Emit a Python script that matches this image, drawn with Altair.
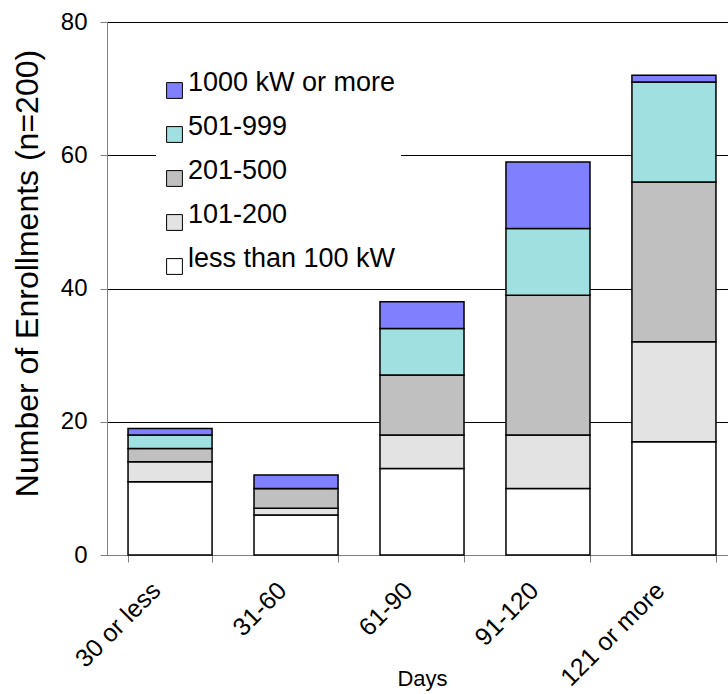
import altair as alt
import pandas as pd

# Enrollment counts by days, split by facility size
days = ["30 or less", "31-60", "61-90", "91-120", "121 or more"]
sizes = ["less than 100 kW", "101-200", "201-500", "501-999", "1000 kW or more"]
less_than_100 = [11, 6, 13, 10, 17]
kw_101_200 = [3, 1, 5, 8, 15]
kw_201_500 = [2, 3, 9, 21, 24]
kw_501_999 = [2, 0, 7, 10, 15]
kw_1000_plus = [1, 2, 4, 10, 1]
colors = ["#FFFFFF", "#E3E3E3", "#C0C0C0", "#A0E0E0", "#8080FF"]

series = [less_than_100, kw_101_200, kw_201_500, kw_501_999, kw_1000_plus]
rows = []
for rank, (size, vals) in enumerate(zip(sizes, series)):
    for d, v in zip(days, vals):
        rows.append({"Days": d, "Size": size, "Count": v, "rank": rank})
df = pd.DataFrame(rows)

font = "Liberation Sans"

chart = (
    alt.Chart(df)
    .mark_bar(stroke="black", strokeWidth=1.5)
    .encode(
        x=alt.X(
            "Days:N",
            sort=days,
            title="Days",
            scale=alt.Scale(range=[0, 630], paddingInner=0.333, paddingOuter=0.167),
            axis=alt.Axis(
                labelAngle=-45,
                labelFontSize=25,
                labelFont=font,
                labelColor="black",
                labelAlign="right",
                labelBaseline="middle",
                labelPadding=24,
                labelOffset=-14,
                labelOverlap=False,
                titleFontSize=22,
                titleFont=font,
                titleFontWeight="normal",
                titleColor="black",
                titleY=130,
                titleBaseline="alphabetic",
                tickBand="extent",
                tickSize=7,
                tickColor="#808080",
                domainColor="#808080",
            ),
        ),
        y=alt.Y(
            "Count:Q",
            title="Number of Enrollments (n=200)",
            scale=alt.Scale(domain=[0, 80]),
            axis=alt.Axis(
                values=[0, 20, 40, 60, 80],
                labelFontSize=24,
                labelFont=font,
                labelColor="black",
                titleFontSize=32,
                titleFont=font,
                titleFontWeight="normal",
                titleColor="black",
                titleX=-63,
                titleY=251,
                grid=True,
                gridColor="black",
                gridWidth=1,
                tickSize=7,
                tickColor="#808080",
                domainColor="#808080",
                labelPadding=13,
            ),
        ),
        color=alt.Color(
            "Size:N",
            scale=alt.Scale(domain=sizes[::-1], range=colors[::-1]),
            legend=alt.Legend(
                title=None,
                orient="none",
                legendX=49,
                legendY=50,
                fillColor="white",
                padding=5,
                symbolType="square",
                symbolSize=250,
                symbolStrokeColor="black",
                symbolStrokeWidth=1,
                symbolOpacity=1,
                labelFontSize=27,
                labelFont=font,
                labelColor="black",
                labelBaseline="alphabetic",
                rowPadding=11,
                labelOffset=0,
                labelLimit=400,
            ),
        ),
        order=alt.Order("rank:Q", sort="ascending"),
    )
    .properties(
        width=621,
        height=533,
        autosize=alt.AutoSizeParams(type="none"),
        padding={"left": 107, "top": 22, "right": 0, "bottom": 139},
    )
    .configure_view(stroke=None)
    .configure(background="white")
)

chart.save("out.html", embed_options={"renderer": "svg", "actions": False})
